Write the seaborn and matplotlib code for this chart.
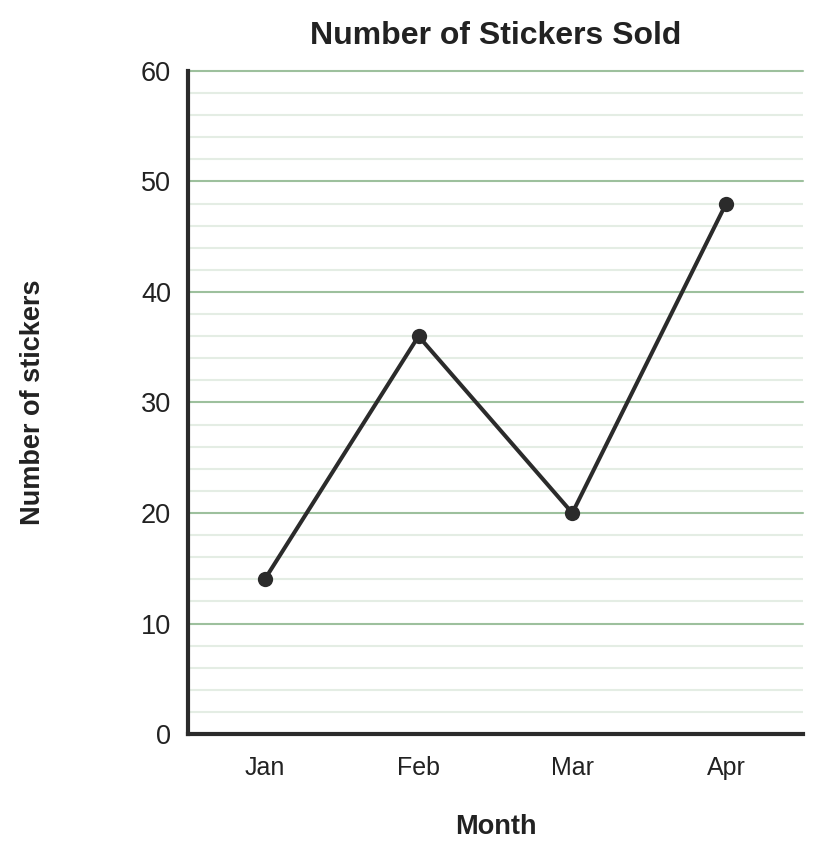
import numpy as np
import pandas as pd
import matplotlib
matplotlib.use("Agg")
import matplotlib.pyplot as plt
import matplotlib.ticker as ticker
import seaborn as sns

months = ["Jan", "Feb", "Mar", "Apr"]
stickers = [14, 36, 20, 48]
y_ticks = [0, 10, 20, 30, 40, 50, 60]

sns.set_theme(style="white")
plt.rcParams["font.family"] = ["Liberation Sans", "DejaVu Sans"]

df = pd.DataFrame({"Month": months, "Stickers": stickers})

fig = plt.figure(figsize=(8.24, 8.55), dpi=100)
ax = fig.add_axes([0.228, 0.1415, 0.7465, 0.7755])

sns.lineplot(data=df, x="Month", y="Stickers", ax=ax, color="#2b2b2b",
             linewidth=2.9, marker="o", markersize=11, markeredgewidth=0,
             sort=False, zorder=5)

ax.set_xlim(-0.5, 3.5)
ax.set_ylim(0, 60)
ax.set_yticks(y_ticks)
ax.yaxis.set_minor_locator(ticker.MultipleLocator(2))
ax.grid(which="major", axis="y", color="#9dc09d", linewidth=1.5)
ax.grid(which="minor", axis="y", color="#e4ede4", linewidth=1.5)
ax.set_axisbelow(True)
for gl in ax.get_ygridlines():
    gl.set_clip_on(False)

for s in ["top", "right"]:
    ax.spines[s].set_visible(False)
for s in ["left", "bottom"]:
    ax.spines[s].set_color("#2b2b2b")
    ax.spines[s].set_linewidth(3)
    ax.spines[s].set_zorder(6)

ax.tick_params(axis="both", which="both", length=0, colors="#222222")
ax.tick_params(axis="y", labelsize=19.5, pad=12)
ax.tick_params(axis="x", labelsize=18, pad=16)

ax.set_title("Number of Stickers Sold", fontsize=23, fontweight="bold",
             color="#222222", pad=19.5)
ax.set_xlabel("Month", fontsize=19.5, fontweight="bold", color="#222222",
              labelpad=24)
ax.set_ylabel("Number of stickers", fontsize=19.5, fontweight="bold",
              color="#222222", labelpad=0)
ax.yaxis.set_label_coords(-0.23, 0.5)

fig.savefig("out.png", dpi=100)
